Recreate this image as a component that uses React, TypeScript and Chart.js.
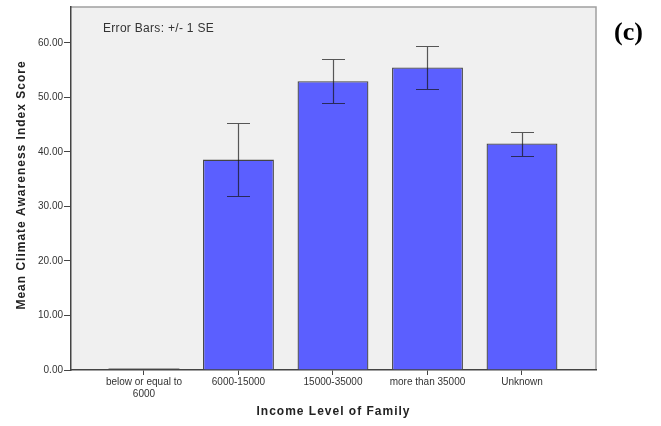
import React, { useEffect, useRef } from "react";
import { Chart, registerables } from "chart.js";

Chart.register(...registerables);

// Income groups on the x axis
const incomeLevels: (string | string[])[] = [
  ["below or equal to", "6000"],
  "6000-15000",
  "15000-35000",
  "more than 35000",
  "Unknown",
];
// Mean climate awareness index score per group
const meanScores = [0, 38.6, 53.0, 55.5, 41.55];
// Standard error per group (error bars show +/- 1 SE)
const standardErrors = [0, 6.7, 4.03, 3.95, 2.2];
// Value-axis ticks
const scoreTicks = [0, 10, 20, 30, 40, 50, 60];

const plotFrame = {
  id: "plotFrame",
  beforeDraw(chart: any) {
    const { ctx, chartArea: a } = chart;
    ctx.save();
    ctx.fillStyle = "#f0f0f0";
    ctx.fillRect(a.left, a.top, a.right - a.left, a.bottom - a.top);
    ctx.strokeStyle = "#a0a0a0";
    ctx.lineWidth = 1.5;
    ctx.beginPath();
    ctx.moveTo(a.left, a.top);
    ctx.lineTo(a.right, a.top);
    ctx.lineTo(a.right, a.bottom);
    ctx.stroke();
    ctx.restore();
  },
};

const errorBars = {
  id: "errorBars",
  afterDatasetsDraw(chart: any) {
    const { ctx } = chart;
    const yScale = chart.scales.y;
    const meta = chart.getDatasetMeta(0);
    ctx.save();
    meta.data.forEach((bar: any, i: number) => {
      const m = meanScores[i];
      const se = standardErrors[i];
      const x = Math.round(bar.x) + 0.5;
      if (m === 0) {
        // empty group: faint line across the bar footprint
        ctx.strokeStyle = "rgba(0,0,0,0.3)";
        ctx.lineWidth = 1;
        ctx.beginPath();
        ctx.moveTo(bar.x - bar.width / 2, Math.round(bar.y) - 1.5);
        ctx.lineTo(bar.x + bar.width / 2, Math.round(bar.y) - 1.5);
        ctx.stroke();
        return;
      }
      const yHi = Math.round(yScale.getPixelForValue(m + se)) + 0.5;
      const yLo = Math.round(yScale.getPixelForValue(m - se)) + 0.5;
      const cap = 11.5;
      ctx.strokeStyle = "rgba(20,20,20,0.7)";
      ctx.lineWidth = 1.2;
      ctx.beginPath();
      ctx.moveTo(x, yHi);
      ctx.lineTo(x, yLo);
      ctx.moveTo(x - cap, yHi);
      ctx.lineTo(x + cap, yHi);
      ctx.moveTo(x - cap, yLo);
      ctx.lineTo(x + cap, yLo);
      ctx.stroke();
    });
    ctx.restore();
  },
};

const annotations = {
  id: "annotations",
  afterDraw(chart: any) {
    const { ctx, chartArea: a } = chart;
    ctx.save();
    ctx.fillStyle = "#333";
    ctx.font = "12px 'Liberation Sans', Arial, sans-serif";
    ctx.letterSpacing = "0.3px";
    ctx.textAlign = "left";
    ctx.textBaseline = "middle";
    ctx.fillText("Error Bars: +/- 1 SE", 103, 29);

    ctx.fillStyle = "#222";
    ctx.font = "bold 12px 'Liberation Sans', Arial, sans-serif";
    ctx.letterSpacing = "1px";
    ctx.textAlign = "center";
    ctx.fillText("Income Level of Family", (a.left + a.right) / 2, 412);

    ctx.save();
    ctx.translate(22, 185);
    ctx.rotate(-Math.PI / 2);
    ctx.fillText("Mean Climate Awareness Index Score", 0, 0);
    ctx.restore();

    ctx.fillStyle = "#000";
    ctx.letterSpacing = "0px";
    ctx.font = "bold 26px 'Liberation Serif', 'Times New Roman', serif";
    ctx.textAlign = "left";
    ctx.fillText("(c)", 614, 33);
    ctx.restore();
  },
};

export default function App() {
  const canvasRef = useRef<HTMLCanvasElement | null>(null);

  useEffect(() => {
    const canvas = canvasRef.current;
    if (!canvas) return;
    const tickFont = { family: "'Liberation Sans', Arial, sans-serif", size: 10 };
    const chart = new Chart(canvas, {
      type: "bar",
      data: {
        datasets: [
          {
            data: meanScores.map((v, i) => ({ x: i, y: v })) as any,
            backgroundColor: "#5b5fff",
            borderColor: "#444",
            borderWidth: 1.3,
            borderSkipped: "start",
            categoryPercentage: 1,
            barPercentage: 0.75,
          },
        ],
      },
      options: {
        responsive: false,
        animation: false,
        events: [],
        layout: { padding: { top: 7, right: 65, left: 0, bottom: 0 } },
        plugins: {
          legend: { display: false },
          tooltip: { enabled: false },
          title: { display: false },
        },
        scales: {
          x: {
            type: "linear",
            offset: false,
            min: -0.772,
            max: 4.783,
            afterBuildTicks: (s: any) => {
              s.ticks = incomeLevels.map((_, i) => ({ value: i }));
            },
            afterFit: (s: any) => {
              s.height = 56;
            },
            ticks: {
              autoSkip: false,
              maxRotation: 0,
              minRotation: 0,
              padding: 1,
              color: "#333",
              font: tickFont,
              callback: (v: any) => incomeLevels[Math.round(Number(v))] as any,
            },
            grid: {
              display: true,
              offset: false,
              drawOnChartArea: false,
              drawTicks: true,
              tickLength: 5,
              color: "#444",
            },
            border: { display: true, color: "#444", width: 1.5 },
          },
          y: {
            min: 0,
            max: 66.6,
            afterBuildTicks: (s: any) => {
              s.ticks = scoreTicks.map((v) => ({ value: v }));
            },
            afterFit: (s: any) => {
              s.width = 71;
            },
            ticks: {
              padding: 1,
              color: "#333",
              font: tickFont,
              callback: (v: any) => Number(v).toFixed(2),
            },
            grid: {
              display: true,
              drawOnChartArea: false,
              drawTicks: true,
              tickLength: 7,
              color: "#444",
            },
            border: { display: true, color: "#444", width: 1.5 },
          },
        },
      },
      plugins: [plotFrame, errorBars, annotations],
    });
    return () => chart.destroy();
  }, []);

  return (
    <div style={{ position: "fixed", left: 0, top: 0, width: 661, height: 426, background: "#fff" }}>
      <canvas ref={canvasRef} width={661} height={426} />
    </div>
  );
}
